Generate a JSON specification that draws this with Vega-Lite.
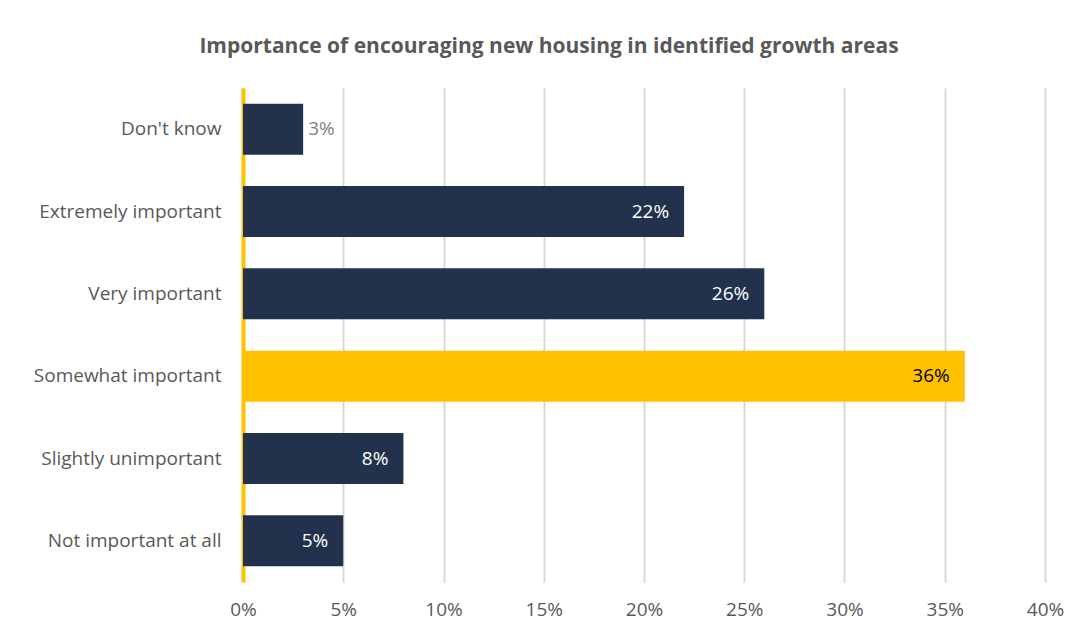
{
  "$schema": "https://vega.github.io/schema/vega-lite/v6.json",
  "autosize": "none",
  "width": 802,
  "height": 494,
  "padding": {"left": 243, "top": 88, "right": 36, "bottom": 53},
  "background": "white",
  "title": {
    "text": "Importance of encouraging new housing in identified growth areas",
    "anchor": "middle",
    "dx": -95,
    "offset": 31,
    "font": "Open Sans",
    "fontSize": 21,
    "fontWeight": "bold",
    "color": "#595959"
  },
  "config": {
    "view": {"stroke": null},
    "font": "Open Sans"
  },
  "data": {
    "values": [
      {"category": "Don't know", "value": 0.03},
      {"category": "Extremely important", "value": 0.22},
      {"category": "Very important", "value": 0.26},
      {"category": "Somewhat important", "value": 0.36},
      {"category": "Slightly unimportant", "value": 0.08},
      {"category": "Not important at all", "value": 0.05}
    ]
  },
  "encoding": {
    "y": {
      "field": "category",
      "type": "nominal",
      "sort": null,
      "scale": {"paddingInner": 0.38, "paddingOuter": 0.19},
      "axis": {
        "title": null,
        "ticks": false,
        "labelPadding": 22,
        "labelLimit": 300,
        "labelFontSize": 19,
        "labelColor": "#595959",
        "domainColor": "#FFC000",
        "domainWidth": 4
      }
    },
    "x": {
      "field": "value",
      "type": "quantitative",
      "scale": {"domain": [0, 0.4]},
      "axis": {
        "title": null,
        "format": ".0%",
        "values": [0, 0.05, 0.1, 0.15, 0.2, 0.25, 0.3, 0.35, 0.4],
        "domain": false,
        "ticks": false,
        "labelFlush": false,
        "labelPadding": 18,
        "labelFontSize": 19,
        "labelColor": "#595959",
        "gridColor": "#D9D9D9",
        "gridWidth": 2
      }
    }
  },
  "layer": [
    {
      "mark": {"type": "bar"},
      "encoding": {
        "color": {
          "condition": {"test": "datum.category === 'Somewhat important'", "value": "#FFC000"},
          "value": "#22324C"
        }
      }
    },
    {
      "transform": [{"filter": "datum.value >= 0.05"}],
      "mark": {"type": "text", "align": "right", "dx": -15, "fontSize": 19},
      "encoding": {
        "text": {"field": "value", "type": "quantitative", "format": ".0%"},
        "color": {
          "condition": {"test": "datum.category === 'Somewhat important'", "value": "#000000"},
          "value": "#FFFFFF"
        }
      }
    },
    {
      "transform": [{"filter": "datum.value < 0.05"}],
      "mark": {"type": "text", "align": "left", "dx": 5, "fontSize": 19, "color": "#7F7F7F"},
      "encoding": {
        "text": {"field": "value", "type": "quantitative", "format": ".0%"}
      }
    }
  ]
}
